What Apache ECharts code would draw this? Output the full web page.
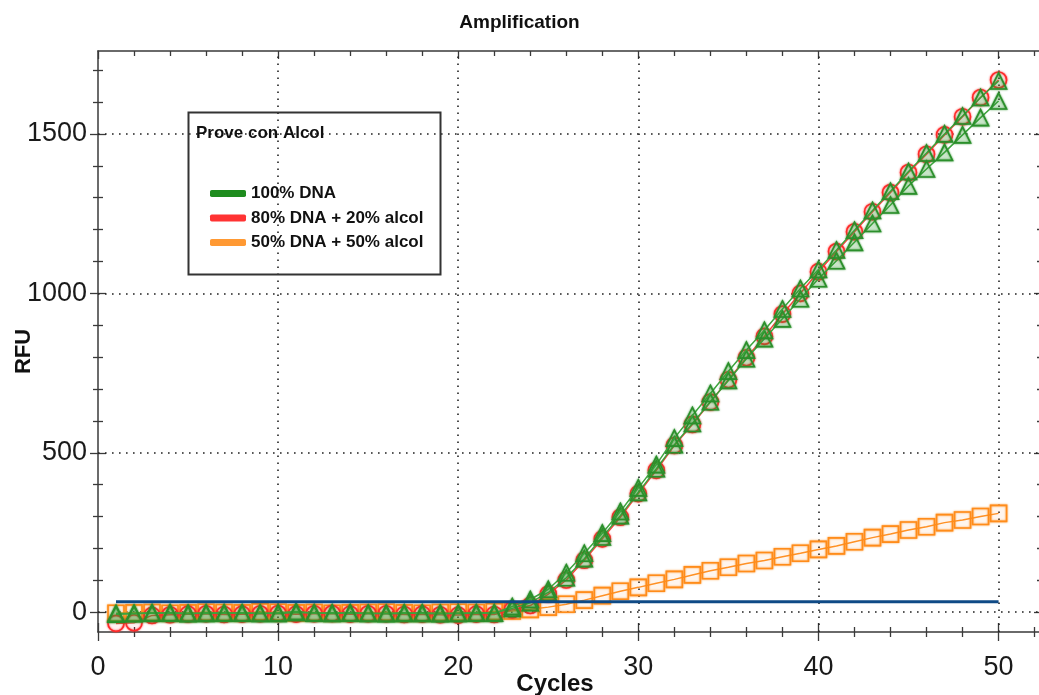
<!DOCTYPE html>
<html>
<head>
<meta charset="utf-8">
<title>Amplification</title>
<script src="https://cdn.jsdelivr.net/npm/echarts/dist/echarts.min.js"></script>
<style>
  html, body { margin: 0; padding: 0; background: #ffffff; }
  #chart { width: 1039px; height: 695px; }
</style>
</head>
<body>
<div id="chart"></div>
<script>
// ---- data -------------------------------------------------------------
const cycles = [1, 2, 3, 4, 5, 6, 7, 8, 9, 10, 11, 12, 13, 14, 15, 16, 17, 18, 19, 20,
  21, 22, 23, 24, 25, 26, 27, 28, 29, 30, 31, 32, 33, 34, 35, 36, 37, 38, 39, 40,
  41, 42, 43, 44, 45, 46, 47, 48, 49, 50];

// 100% DNA, two wells
const dna100WellA = [-4, -3, -2, -3, -5, -2, -3, -2, -4, -2, 2, -3, -2, -3, -4, -3, -2, -4, -5, -3,
  -2, -3, 18, 40, 72, 124, 185, 248, 316, 390, 463, 546, 617, 686, 756, 822, 884, 951, 1015, 1075,
  1136, 1198, 1260, 1320, 1382, 1440, 1500, 1556, 1614, 1666];
const dna100WellB = [-6, -5, -3, -2, -3, -4, -2, -3, -3, -4, -1, -2, -4, -2, -3, -5, -4, -2, -3, -4,
  -3, -2, 12, 30, 62, 108, 168, 236, 303, 376, 450, 525, 592, 660, 727, 795, 858, 920, 983, 1046,
  1102, 1160, 1219, 1277, 1337, 1390, 1442, 1497, 1551, 1603];
// 80% DNA + 20% alcol
const dna80 = [-35, -33, -10, -8, -6, -5, -7, -6, -5, -4, -6, -5, -4, -6, -5, -5, -7, -6, -8, -9,
  -6, -7, 8, 21, 57, 101, 163, 230, 298, 372, 445, 523, 589, 659, 729, 798, 865, 935, 1000, 1068,
  1131, 1193, 1256, 1316, 1379, 1436, 1497, 1554, 1614, 1669];
// 50% DNA + 50% alcol
const dna50 = [-3, -2, -1, -3, -2, 0, -1, -2, 1, 0, -2, -1, -3, -2, -1, 0, -2, -3, -1, 0,
  -1, 2, 4, 9, 16, 25, 38, 52, 66, 78, 91, 103, 117, 130, 141, 153, 162, 174, 185, 197,
  208, 221, 234, 245, 258, 268, 281, 289, 300, 310];

const thresholdRFU = 33;
const thresholdCycles = [1, 50];

const seriesNames = ['100% DNA', '80% DNA + 20% alcol', '50% DNA + 50% alcol'];
const legendTitle = 'Prove con Alcol';

const xMajorTicks = [0, 10, 20, 30, 40, 50];
const xMinorTicks = [2, 4, 6, 8, 12, 14, 16, 18, 22, 24, 26, 28, 32, 34, 36, 38, 42, 44, 46, 48, 52];
const yMajorTicks = [0, 500, 1000, 1500];
const yMinorTicks = [100, 200, 300, 400, 600, 700, 800, 900, 1100, 1200, 1300, 1400, 1600, 1700];
const yRightMinorTicks = [100, 200, 300, 400, 600, 700, 800, 900, 1100, 1200, 1300, 1400];

// ---- scales ----------------------------------------------------------
const X_MIN = 0, X_MAX = 52.3;
const Y_MIN = -62, Y_MAX = 1760;

const SANS = "'Liberation Sans', Arial, sans-serif";
const AXIS_COLOR = '#3a3a3a';

function pairs(values) {
  return cycles.map((c, i) => [c, values[i]]);
}

function plainNumber(v) {
  return String(v);
}

function xAxisDef(position, ticks, len, inside, extra) {
  return Object.assign({
    type: 'value', position: position, min: X_MIN, max: X_MAX,
    axisLine: { show: false, onZero: false, lineStyle: { color: AXIS_COLOR, width: 1.5 } },
    axisTick: { show: true, inside: inside, length: len, customValues: ticks,
      lineStyle: { color: AXIS_COLOR, width: 1.3 } },
    axisLabel: { show: false },
    splitLine: { show: false },
    minorTick: { show: false }
  }, extra || {});
}

function yAxisDef(position, ticks, len, inside, extra) {
  return Object.assign({
    type: 'value', position: position, min: Y_MIN, max: Y_MAX,
    axisLine: { show: false, onZero: false, lineStyle: { color: AXIS_COLOR, width: 1.5 } },
    axisTick: { show: true, inside: inside, length: len, customValues: ticks,
      lineStyle: { color: AXIS_COLOR, width: 1.3 } },
    axisLabel: { show: false },
    splitLine: { show: false },
    minorTick: { show: false }
  }, extra || {});
}

const xAxes = [
  xAxisDef('bottom', xMajorTicks, 9, false, {
    axisLine: { show: true, onZero: false, lineStyle: { color: AXIS_COLOR, width: 1.5 } },
    axisLabel: { show: true, customValues: xMajorTicks, margin: 22, fontSize: 27,
      fontFamily: SANS, color: '#1a1a1a', formatter: plainNumber },
    name: 'Cycles', nameLocation: 'middle', nameGap: 40, nameMoveOverlap: false,
    nameTextStyle: { fontFamily: SANS, fontWeight: 'bold', fontSize: 24, color: '#111',
      padding: [0, 28, 0, 0] }
  }),
  xAxisDef('bottom', xMajorTicks, 9, true),
  xAxisDef('bottom', xMinorTicks, 5, false),
  xAxisDef('bottom', xMinorTicks, 5, true),
  xAxisDef('top', xMajorTicks, 8, true, {
    axisLine: { show: true, onZero: false, lineStyle: { color: AXIS_COLOR, width: 1.5 } }
  }),
  xAxisDef('top', xMinorTicks, 5, true)
];

const yAxes = [
  yAxisDef('left', yMajorTicks, 8, false, {
    axisLine: { show: true, onZero: false, lineStyle: { color: AXIS_COLOR, width: 1.5 } },
    axisLabel: { show: true, customValues: yMajorTicks, margin: 11, fontSize: 27,
      fontFamily: SANS, color: '#1a1a1a', formatter: plainNumber },
    name: 'RFU', nameLocation: 'middle', nameGap: 63, nameMoveOverlap: false,
    nameTextStyle: { fontFamily: SANS, fontWeight: 'bold', fontSize: 22, color: '#111',
      padding: [0, 20, 0, 0] }
  }),
  yAxisDef('left', yMajorTicks, 8, true),
  yAxisDef('left', yMinorTicks, 5, false),
  yAxisDef('left', yMinorTicks, 5, true),
  yAxisDef('right', yMajorTicks, 6, true),
  yAxisDef('right', yRightMinorTicks, 3, true)
];

// dotted reference grid at the major ticks
const gridLines = xMajorTicks.filter(v => v > 0).map(v => ({ xAxis: v }))
  .concat(yMajorTicks.map(v => ({ yAxis: v })));

function markerSeries(name, values, symbol, size, lineColor, borderColor, fill, z) {
  return {
    type: 'line', name: name, data: pairs(values),
    xAxisIndex: 0, yAxisIndex: 0, z: z,
    symbol: symbol, symbolSize: size, showAllSymbol: true,
    lineStyle: { color: lineColor, width: 1.5 },
    itemStyle: { color: fill, borderColor: borderColor, borderWidth: 1.6,
      shadowBlur: 2, shadowColor: borderColor },
    emphasis: { disabled: true }
  };
}

const option = {
  animation: false,
  backgroundColor: '#ffffff',
  title: {
    text: 'Amplification', left: 'center', top: 8,
    textStyle: { fontFamily: SANS, fontWeight: 'bold', fontSize: 19, color: '#111' }
  },
  grid: { left: 98, top: 51, width: 942, height: 581, containLabel: false, outerBoundsMode: 'none' },
  xAxis: xAxes,
  yAxis: yAxes,
  legend: {
    orient: 'vertical', left: 205, top: 180,
    itemWidth: 36, itemHeight: 7, itemGap: 7.5, itemTextGap: 6,
    selectedMode: false,
    textStyle: { fontFamily: SANS, fontWeight: 'bold', fontSize: 17, color: '#111' },
    data: [
      { name: seriesNames[0], icon: 'roundRect', itemStyle: { color: '#1e8c1e', borderWidth: 0, shadowBlur: 0 } },
      { name: seriesNames[1], icon: 'roundRect', itemStyle: { color: '#ff3333', borderWidth: 0, shadowBlur: 0 } },
      { name: seriesNames[2], icon: 'roundRect', itemStyle: { color: '#ff9933', borderWidth: 0, shadowBlur: 0 } }
    ]
  },
  graphic: [
    { type: 'rect', left: 186, top: 110, z: 10,
      shape: { width: 252, height: 162 },
      style: { fill: 'none', stroke: '#333', lineWidth: 2 } },
    { type: 'text', left: 196, top: 125, z: 10,
      style: { text: legendTitle, font: "bold 17px 'Liberation Sans', Arial, sans-serif", fill: '#111' } }
  ],
  series: [
    {
      type: 'line', name: 'grid', data: [], xAxisIndex: 0, yAxisIndex: 0, z: 1,
      markLine: {
        silent: true, symbol: 'none', z: 1, animation: false,
        label: { show: false },
        lineStyle: { color: '#222', width: 1.6, type: [1.6, 5.4] },
        data: gridLines
      }
    },
    markerSeries(seriesNames[2], dna50, 'rect', 16, '#ff9326', '#ff8c1a', 'rgba(255,140,26,0.04)', 2),
    markerSeries(seriesNames[1], dna80, 'circle', 16, '#ff4040', '#ff2a2a', 'rgba(255,40,40,0.03)', 3),
    markerSeries(seriesNames[0], dna100WellB, 'triangle', 16, '#3ea43e', '#2b8f2b', 'rgba(60,170,60,0.14)', 4),
    markerSeries(seriesNames[0], dna100WellA, 'triangle', 16, '#3ea43e', '#2b8f2b', 'rgba(60,170,60,0.14)', 5),
    {
      type: 'line', name: 'threshold', xAxisIndex: 0, yAxisIndex: 0, z: 6,
      data: thresholdCycles.map(c => [c, thresholdRFU]),
      symbol: 'none', lineStyle: { color: '#0f4a86', width: 3 },
      emphasis: { disabled: true }
    }
  ]
};

const chart = echarts.init(document.getElementById('chart'), null, { renderer: 'canvas' });
chart.setOption(option);
</script>
</body>
</html>
